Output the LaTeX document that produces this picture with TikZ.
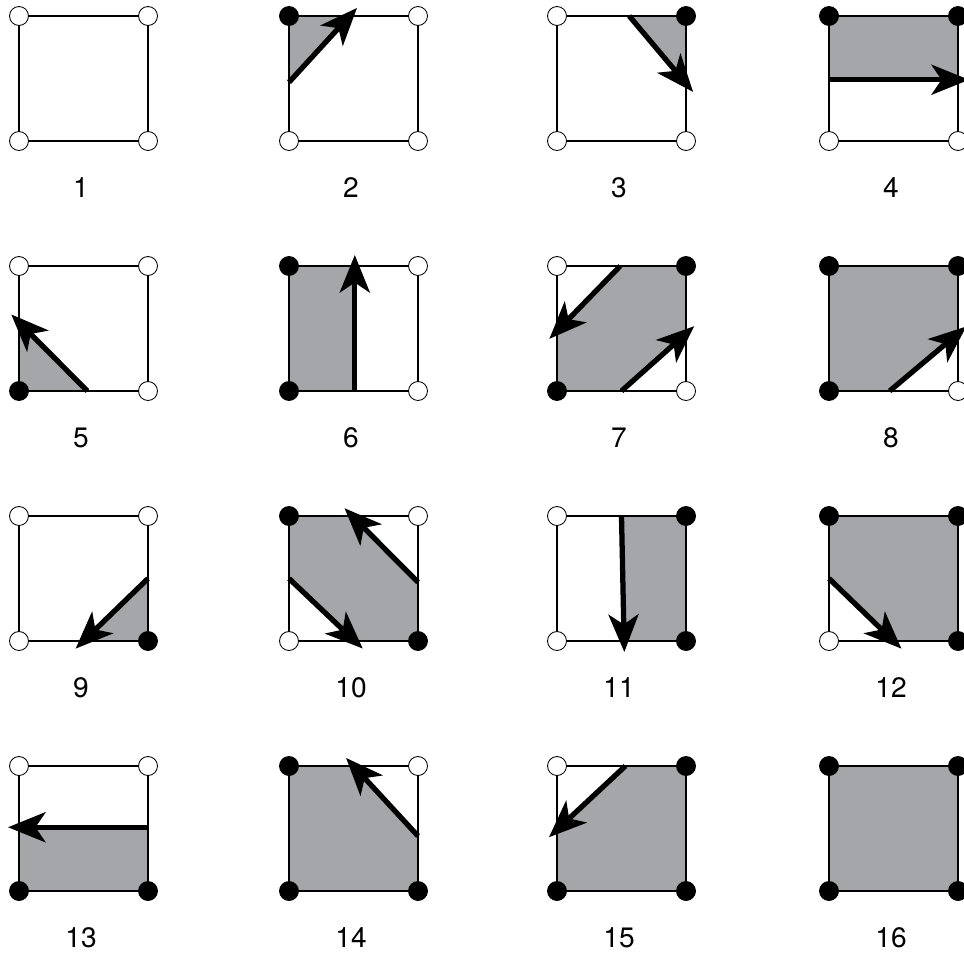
\documentclass[tikz,border=0pt]{standalone}
\usepackage{fontspec}
\setmainfont{TeX Gyre Heros}
\usetikzlibrary{arrows.meta,calc}
\definecolor{cellgray}{RGB}{165,166,170}
\tikzset{
  hot/.style={circle, draw=black, fill=black, line width=0.5pt, minimum size=0.38cm, inner sep=0pt},
  cold/.style={circle, draw=black, fill=white, line width=0.5pt, minimum size=0.38cm, inner sep=0pt},
  cellline/.style={line width=1.3pt, line join=round},
  contour/.style={-{Stealth[length=7.5mm 0, width=6mm 0, inset=2mm 0]}, line width=3pt, shorten >=-0.22cm},
  caselabel/.style={font=\fontsize{16}{19}\selectfont}
}

\begin{document}
\begin{tikzpicture}[x=0.02cm,y=-0.02cm]
\useasboundingbox (0,0) rectangle (964,960);
% cell corners and case numbers
\foreach \n/\x/\y in {1/19/16, 2/289/16, 3/557/16, 4/829/16,
  5/19/266, 6/289/266, 7/557/266, 8/829/266,
  9/19/516, 10/289/516, 11/557/516, 12/829/516,
  13/19/766, 14/289/766, 15/557/766, 16/829/766}{
  \coordinate (tl\n) at (\x,\y);
  \coordinate (tr\n) at (\x+129,\y);
  \coordinate (bl\n) at (\x,\y+125);
  \coordinate (br\n) at (\x+129,\y+125);
  \node[caselabel] (lab\n) at (\x+62,\y+172) {\n};
}

% contour crossings on the cell edges
\coordinate (l2) at ($(tl2)!0.53!(bl2)$);   \coordinate (t2) at ($(tl2)!0.47!(tr2)$);
\coordinate (t3) at ($(tl3)!0.56!(tr3)$);   \coordinate (r3) at ($(tr3)!0.54!(br3)$);
\coordinate (l4) at ($(tl4)!0.51!(bl4)$);   \coordinate (r4) at ($(tr4)!0.51!(br4)$);
\coordinate (b5) at ($(bl5)!0.53!(br5)$);   \coordinate (l5) at ($(tl5)!0.45!(bl5)$);
\coordinate (b6) at ($(bl6)!0.51!(br6)$);   \coordinate (t6) at ($(tl6)!0.51!(tr6)$);
\coordinate (t7) at ($(tl7)!0.49!(tr7)$);   \coordinate (l7) at ($(tl7)!0.52!(bl7)$);
\coordinate (b7) at ($(bl7)!0.50!(br7)$);   \coordinate (r7) at ($(tr7)!0.54!(br7)$);
\coordinate (b8) at ($(bl8)!0.47!(br8)$);   \coordinate (r8) at ($(tr8)!0.54!(br8)$);
\coordinate (r9) at ($(tr9)!0.50!(br9)$);   \coordinate (b9) at ($(bl9)!0.50!(br9)$);
\coordinate (l10) at ($(tl10)!0.50!(bl10)$); \coordinate (b10) at ($(bl10)!0.51!(br10)$);
\coordinate (r10) at ($(tr10)!0.53!(br10)$); \coordinate (t10) at ($(tl10)!0.49!(tr10)$);
\coordinate (t11) at ($(tl11)!0.50!(tr11)$); \coordinate (b11) at ($(bl11)!0.52!(br11)$);
\coordinate (l12) at ($(tl12)!0.50!(bl12)$); \coordinate (b12) at ($(bl12)!0.50!(br12)$);
\coordinate (r13) at ($(tr13)!0.49!(br13)$); \coordinate (l13) at ($(tl13)!0.49!(bl13)$);
\coordinate (r14) at ($(tr14)!0.56!(br14)$); \coordinate (t14) at ($(tl14)!0.50!(tr14)$);
\coordinate (t15) at ($(tl15)!0.53!(tr15)$); \coordinate (l15) at ($(tl15)!0.51!(bl15)$);

% inside regions
\fill[cellgray] (tl2) -- (t2) -- (l2) -- cycle;
\fill[cellgray] (t3) -- (tr3) -- (r3) -- cycle;
\fill[cellgray] (tl4) -- (tr4) -- (r4) -- (l4) -- cycle;
\fill[cellgray] (l5) -- (b5) -- (bl5) -- cycle;
\fill[cellgray] (tl6) -- (t6) -- (b6) -- (bl6) -- cycle;
\fill[cellgray] (t7) -- (tr7) -- (r7) -- (b7) -- (bl7) -- (l7) -- cycle;
\fill[cellgray] (tl8) -- (tr8) -- (r8) -- (b8) -- (bl8) -- cycle;
\fill[cellgray] (r9) -- (br9) -- (b9) -- cycle;
\fill[cellgray] (tl10) -- (t10) -- (r10) -- (br10) -- (b10) -- (l10) -- cycle;
\fill[cellgray] (t11) -- (tr11) -- (br11) -- (b11) -- cycle;
\fill[cellgray] (tl12) -- (tr12) -- (br12) -- (b12) -- (l12) -- cycle;
\fill[cellgray] (l13) -- (r13) -- (br13) -- (bl13) -- cycle;
\fill[cellgray] (tl14) -- (t14) -- (r14) -- (br14) -- (bl14) -- cycle;
\fill[cellgray] (t15) -- (tr15) -- (br15) -- (bl15) -- (l15) -- cycle;
\fill[cellgray] (tl16) rectangle (br16);

% cell outlines
\foreach \n in {1,...,16}
  \draw[cellline] (tl\n) rectangle (br\n);

% contour arrows
\draw[contour] (l2) -- (t2);
\draw[contour] (t3) -- (r3);
\draw[contour] (l4) -- (r4);
\draw[contour] (b5) -- (l5);
\draw[contour] (b6) -- (t6);
\draw[contour] (t7) -- (l7);
\draw[contour] (b7) -- (r7);
\draw[contour] (b8) -- (r8);
\draw[contour] (r9) -- (b9);
\draw[contour] (l10) -- (b10);
\draw[contour] (r10) -- (t10);
\draw[contour] (t11) -- (b11);
\draw[contour] (l12) -- (b12);
\draw[contour] (r13) -- (l13);
\draw[contour] (r14) -- (t14);
\draw[contour] (t15) -- (l15);

% corner samples
\foreach \n/\a/\b/\c/\d in {1/cold/cold/cold/cold, 2/hot/cold/cold/cold,
  3/cold/hot/cold/cold, 4/hot/hot/cold/cold, 5/cold/cold/hot/cold,
  6/hot/cold/hot/cold, 7/cold/hot/hot/cold, 8/hot/hot/hot/cold,
  9/cold/cold/cold/hot, 10/hot/cold/cold/hot, 11/cold/hot/cold/hot,
  12/hot/hot/cold/hot, 13/cold/cold/hot/hot, 14/hot/cold/hot/hot,
  15/cold/hot/hot/hot, 16/hot/hot/hot/hot}{
  \node[\a] (dot\n-tl) at (tl\n) {};
  \node[\b] (dot\n-tr) at (tr\n) {};
  \node[\c] (dot\n-bl) at (bl\n) {};
  \node[\d] (dot\n-br) at (br\n) {};
}
\end{tikzpicture}
\end{document}
